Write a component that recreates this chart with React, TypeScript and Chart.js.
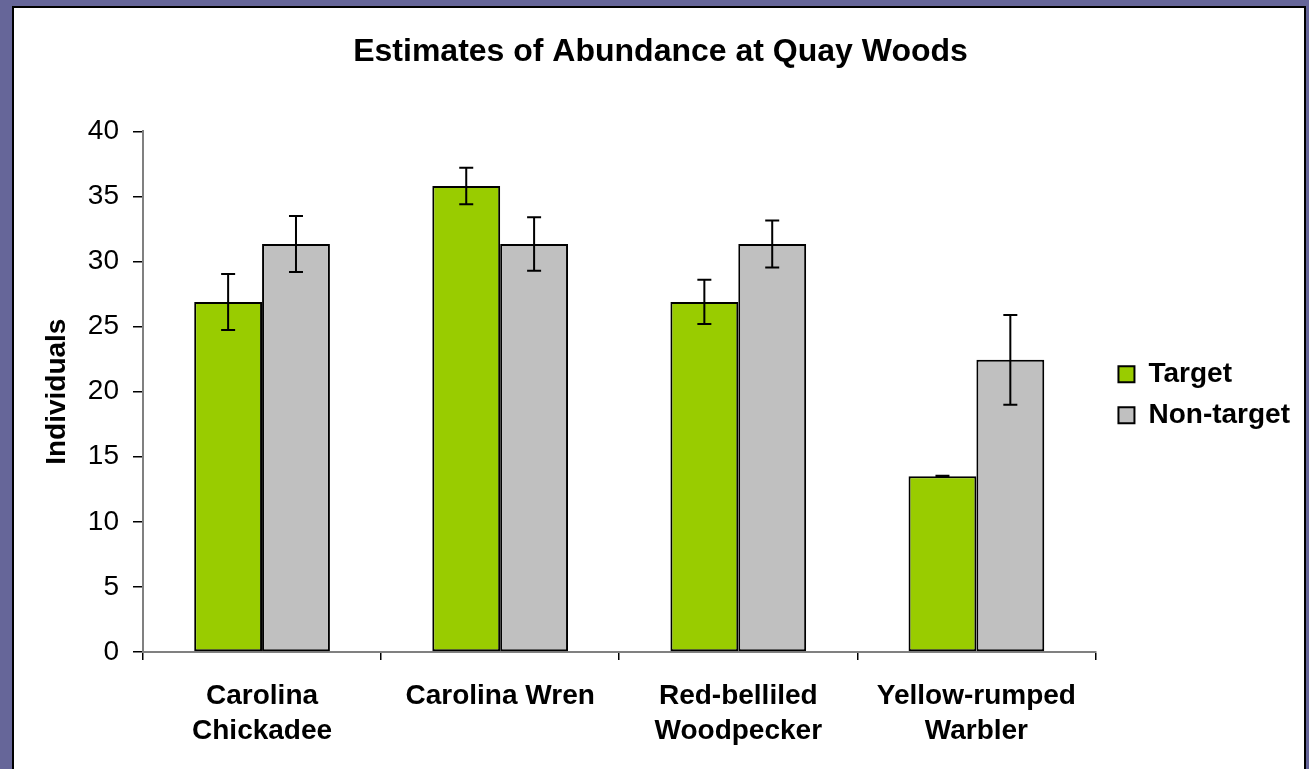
import React, { useEffect, useRef } from "react";
import { Chart, registerables } from "chart.js";

Chart.register(...registerables);

const categories: (string | string[])[] = [
  ["Carolina", "Chickadee"],
  "Carolina Wren",
  ["Red-belliled", "Woodpecker"],
  ["Yellow-rumped", "Warbler"],
];
const targetValues = [26.9, 35.8, 26.9, 13.5];
const targetErrors = [2.15, 1.4, 1.7, 0.05];
const nonTargetValues = [31.35, 31.35, 31.35, 22.45];
const nonTargetErrors = [2.15, 2.05, 1.8, 3.45];
const yTicks = { min: 0, max: 40, step: 5 };

const FONT = "'Liberation Sans', Arial, Helvetica, sans-serif";

const errorBarPlugin = {
  id: "errorBars",
  afterDatasetsDraw(chart: any) {
    const ctx = chart.ctx;
    const yScale = chart.scales.y;
    chart.data.datasets.forEach((ds: any, i: number) => {
      const meta = chart.getDatasetMeta(i);
      const errs: number[] = ds.errors || [];
      meta.data.forEach((bar: any, j: number) => {
        const v = ds.data[j];
        const e = errs[j] || 0;
        const x = bar.x;
        const yt = yScale.getPixelForValue(v + e);
        const yb = yScale.getPixelForValue(v - e);
        ctx.save();
        ctx.strokeStyle = "#000";
        ctx.lineWidth = 2;
        ctx.beginPath();
        ctx.moveTo(x, yt);
        ctx.lineTo(x, yb);
        ctx.moveTo(x - 7, yt);
        ctx.lineTo(x + 7, yt);
        ctx.moveTo(x - 7, yb);
        ctx.lineTo(x + 7, yb);
        ctx.stroke();
        ctx.restore();
      });
    });
  },
};

export default function App() {
  const ref = useRef<HTMLCanvasElement>(null);
  useEffect(() => {
    if (!ref.current) return;
    const chart = new Chart(ref.current, {
      type: "bar",
      data: {
        labels: categories as any,
        datasets: [
          {
            label: "Target",
            data: targetValues,
            errors: targetErrors,
            backgroundColor: "#99CC00",
            borderColor: "#000000",
            borderWidth: 2,
            borderSkipped: false,
            categoryPercentage: 0.57,
            barPercentage: 1,
          } as any,
          {
            label: "Non-target",
            data: nonTargetValues,
            errors: nonTargetErrors,
            backgroundColor: "#C0C0C0",
            borderColor: "#000000",
            borderWidth: 2,
            borderSkipped: false,
            categoryPercentage: 0.57,
            barPercentage: 1,
          } as any,
        ],
      },
      options: {
        responsive: false,
        animation: false,
        layout: { padding: { left: 21, right: 9, top: 0, bottom: 0 } },
        plugins: {
          title: {
            display: true,
            text: "Estimates of Abundance at Quay Woods",
            color: "#000",
            font: { family: FONT, size: 32, weight: "bold", lineHeight: 1.2 },
            padding: { top: 33, bottom: 60 },
          },
          legend: {
            position: "right",
            fullSize: false,
            title: {
              display: true,
              text: "",
              font: { family: FONT, size: 1, lineHeight: 1 },
              padding: { top: 5, bottom: 0 },
            },
            labels: {
              color: "#000",
              font: { family: FONT, size: 28, weight: "bold" },
              boxWidth: 16,
              boxHeight: 16,
              padding: 13,
            },
          },
          tooltip: { enabled: false },
        },
        scales: {
          x: {
            grid: {
              offset: true,
              drawOnChartArea: false,
              drawTicks: true,
              tickLength: 8,
              tickColor: "#000",
              lineWidth: 1.5,
            },
            border: { color: "#808080", width: 2 },
            ticks: {
              color: "#000",
              font: { family: FONT, size: 28, weight: "bold", lineHeight: 1.25 },
              padding: 19,
              maxRotation: 0,
              autoSkip: false,
            },
            afterFit: (s: any) => {
              s.height = 117;
            },
          },
          y: {
            min: yTicks.min,
            max: yTicks.max,
            grid: {
              drawOnChartArea: false,
              drawTicks: true,
              tickLength: 10,
              tickColor: "#000",
              lineWidth: 1.5,
            },
            border: { color: "#808080", width: 2 },
            ticks: {
              stepSize: yTicks.step,
              color: "#000",
              font: { family: FONT, size: 28 },
              padding: 14,
            },
            title: {
              display: true,
              text: "Individuals",
              color: "#000",
              font: { family: FONT, size: 28, weight: "bold", lineHeight: 1.2 },
              padding: { top: 19, bottom: 0 },
            },
            afterFit: (s: any) => {
              s.width = 122;
            },
          },
          spacer: {
            type: "linear",
            position: "right",
            display: true,
            grid: { display: false, drawTicks: false },
            ticks: { display: false },
            border: { display: false },
            afterFit: (s: any) => {
              s.width = 10;
            },
          } as any,
        },
      },
      plugins: [errorBarPlugin],
    });
    return () => chart.destroy();
  }, []);

  return (
    <div style={{ position: "fixed", left: 0, top: 0, width: 1309, height: 769, background: "#666699", overflow: "hidden" }}>
      <div
        style={{
          position: "absolute",
          left: 12,
          top: 6,
          width: 1294,
          height: 800,
          boxSizing: "border-box",
          border: "2px solid #000",
          background: "#fff",
        }}
      />
      <canvas ref={ref} width={1309} height={769} style={{ position: "absolute", left: 0, top: 0, width: 1309, height: 769 }} />
    </div>
  );
}
